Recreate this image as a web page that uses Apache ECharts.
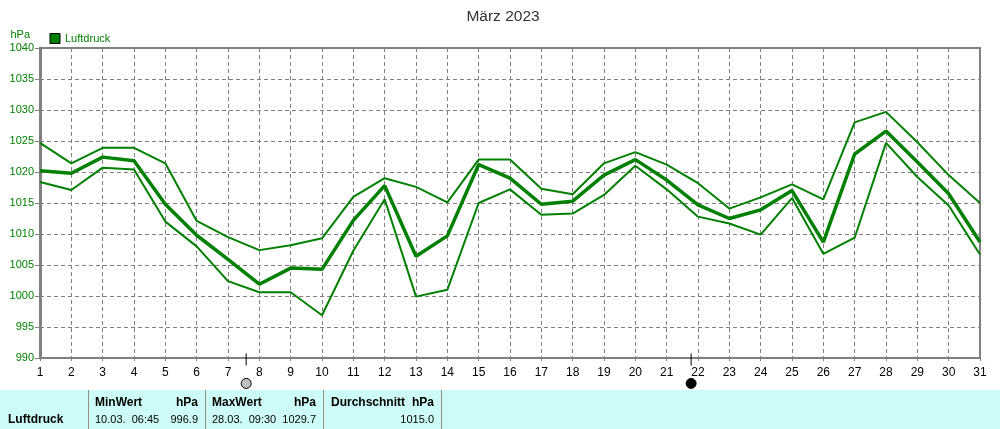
<!DOCTYPE html>
<html><head><meta charset="utf-8">
<style>html,body{margin:0;padding:0;background:#fff}#c{width:1000px;height:429px}</style>
<script src="https://cdn.jsdelivr.net/npm/echarts@6/dist/echarts.min.js"></script>
</head><body><div id="c"></div>
<script>
const days=[1,2,3,4,5,6,7,8,9,10,11,12,13,14,15,16,17,18,19,20,21,22,23,24,25,26,27,28,29,30,31];
const upper=[1024.7,1021.4,1023.9,1023.9,1021.4,1012.1,1009.5,1007.4,1008.2,1009.3,1016,1019,1017.6,1015.1,1022,1022,1017.3,1016.4,1021.4,1023.2,1021.2,1018.2,1014.1,1015.9,1018,1015.6,1028,1029.7,1024.8,1019.5,1015];
const mean=[1020.2,1019.8,1022.4,1021.8,1014.8,1009.8,1005.9,1001.9,1004.5,1004.3,1012.2,1017.8,1006.4,1009.7,1021.2,1019,1014.8,1015.3,1019.5,1022,1018.7,1014.7,1012.5,1013.9,1017,1008.7,1022.9,1026.6,1021.6,1016.5,1008.7];
const lower=[1018.4,1017.1,1020.7,1020.4,1012,1008,1002.4,1000.6,1000.6,996.9,1007.3,1015.6,999.9,1001,1015,1017.2,1013.1,1013.3,1016.3,1021,1017.2,1012.8,1011.7,1009.9,1015.8,1006.8,1009.4,1024.7,1019.2,1014.6,1006.7];
const moonDays=[7.58,21.78];
const moonColors=['#c0c0c0','#000000'];
const title='März 2023', seriesName='Luftdruck', unit='hPa';
const panelHeads=['MinWert','MaxWert','Durchschnitt'];
const panelWhen=['10.03.  06:45','28.03.  09:30',''];
const panelVals=['996.9','1029.7','1015.0'];
const font='"Liberation Sans",Arial,sans-serif';
const G='#008000', GR='#808080';
const zip=a=>days.map((d,i)=>[d,a[i]]);
const line=(a,w)=>({name:seriesName,type:'line',data:zip(a),showSymbol:false,symbol:'none',animation:false,silent:true,lineStyle:{color:G,width:w},itemStyle:{color:G},z:3});
const colX=[[95,198],[212,316],[331,434]];
const seps=[88,205,323,441];
const t=(x,y,text,o={})=>({type:'text',x,y,silent:true,z:10,style:Object.assign({text,fill:'#000',font:'11px '+font,textVerticalAlign:'middle'},o)});
const bold={font:'bold 12px '+font};
const gfx=[{type:'rect',shape:{x:0,y:390,width:1000,height:39},style:{fill:'#ccfbf8'},silent:true,z:9}];
seps.forEach(x=>gfx.push({type:'rect',shape:{x:x,y:390,width:1,height:39},style:{fill:'#909090'},silent:true,z:10}));
gfx.push(t(8,420,seriesName,bold));
colX.forEach((c,i)=>{
  gfx.push(t(c[0],403,panelHeads[i],bold));
  gfx.push(t(c[1],403,unit,Object.assign({textAlign:'right'},bold)));
  if(panelWhen[i])gfx.push(t(c[0],420,panelWhen[i]));
  gfx.push(t(c[1],420,panelVals[i],{textAlign:'right'}));
});
const chart=echarts.init(document.getElementById('c'),null,{renderer:'canvas'});
chart.setOption({
 animation:false,backgroundColor:'#fff',
 title:{text:title,left:498,textAlign:'center',top:4,textStyle:{fontFamily:font,fontWeight:'normal',fontSize:15.5,color:'#333'}},
 legend:{left:44.5,top:28,itemWidth:10,itemHeight:10,itemGap:3,icon:'rect',data:[seriesName],
   itemStyle:{color:G,borderColor:'#000',borderWidth:1},
   textStyle:{fontFamily:font,fontSize:11,color:G,padding:[0,0,0,0]}},
 grid:{left:40,right:20,top:48,bottom:71,show:true,borderColor:GR,borderWidth:2,backgroundColor:'#fff'},
 xAxis:{type:'value',min:1,max:31,interval:1,
   axisLine:{show:true,onZero:false,lineStyle:{color:GR,width:2}},
   axisTick:{show:true,length:3,lineStyle:{color:GR}},
   axisLabel:{color:'#000',fontFamily:font,fontSize:12,margin:9,hideOverlap:false,showMinLabel:true,showMaxLabel:true,formatter:v=>String(v)},
   splitLine:{show:true,lineStyle:{color:GR,type:[4,3],width:1}}},
 yAxis:{type:'value',min:990,max:1040,interval:5,
   name:unit,nameLocation:'end',nameGap:8,nameTextStyle:{color:G,fontFamily:font,fontSize:11,align:'right',padding:[0,10,0,0]},
   axisLine:{show:true,onZero:false,lineStyle:{color:GR,width:3}},
   axisTick:{show:true,length:5,lineStyle:{color:GR}},
   axisLabel:{color:G,fontFamily:font,fontSize:11,margin:6,formatter:v=>String(v)},
   splitLine:{show:true,lineStyle:{color:GR,type:[4,3],width:1}}},
 series:[line(upper,2),line(mean,3.5),line(lower,2),
  {type:'scatter',data:moonDays.map(d=>[d,989.75]),symbol:'rect',symbolSize:[1,12],clip:false,silent:true,animation:false,itemStyle:{color:'#000',opacity:1},z:4},
  {type:'scatter',data:moonDays.map((d,i)=>({value:[d,985.9],itemStyle:{color:moonColors[i]}})),symbol:'circle',symbolSize:10,clip:false,silent:true,animation:false,itemStyle:{borderColor:'#000',borderWidth:1,opacity:1},z:4}
 ],
 graphic:gfx
});
</script></body></html>
